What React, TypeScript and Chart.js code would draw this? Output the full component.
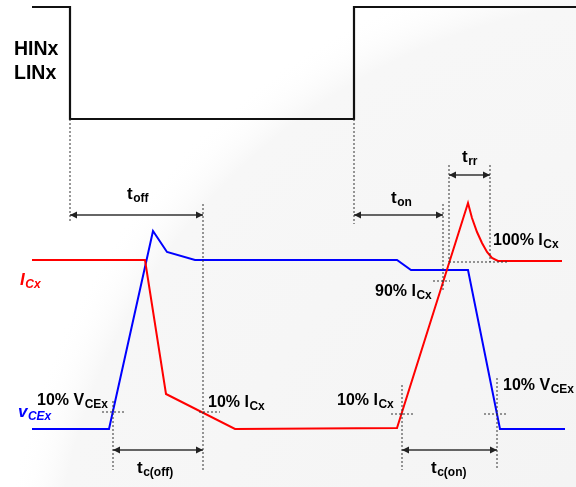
import React, { useEffect, useRef } from "react";
import { Chart, registerables } from "chart.js";

Chart.register(...registerables);

// Waveforms (x = time position, y = level position, diagram units; y grows downward)
const gateX = [32, 70, 70, 354, 354, 577];
const gateY = [7, 7, 119, 119, 7, 7];

const icX = [32, 145, 166, 235, 397, 468, 472, 477, 482, 487, 492, 498, 562];
const icY = [260, 260, 394, 429, 428, 203, 218, 232, 243, 252, 258, 261, 261];

const vceX = [32, 109, 153, 167, 195, 397, 411, 468, 500, 565];
const vceY = [429, 429, 231, 252, 260, 260, 270, 270, 429, 429];

// Dotted guide segments: [x1, y1, x2, y2]
const guides: number[][] = [
  [70, 119, 70, 222],
  [354, 119, 354, 224],
  [203, 204, 203, 470],
  [443, 204, 443, 292],
  [449, 165, 449, 262],
  [490, 165, 490, 262],
  [449, 262, 508, 262],
  [433, 281, 450, 281],
  [102, 412, 126, 412],
  [113, 401, 113, 470],
  [199, 412, 220, 412],
  [391, 414, 414, 414],
  [402, 385, 402, 470],
  [484, 414, 507, 414],
  [497, 378, 497, 470],
];

// Dimension arrows: [xStart, xEnd, y]
const arrows: number[][] = [
  [70, 203, 215],
  [354, 443, 215],
  [449, 490, 175],
  [113, 203, 450],
  [402, 497, 450],
];

// Labels: [main, subscript, x, baseline y, colour, italic]
const labelMain = ["HINx", "LINx", "t", "t", "t", "100% I", "I", "v", "10% V", "10% I", "10% I", "90% I", "10% V", "t", "t"];
const labelSub = ["", "", "off", "on", "rr", "Cx", "Cx", "CEx", "CEx", "Cx", "Cx", "Cx", "CEx", "c(off)", "c(on)"];
const labelX = [14, 14, 127, 391, 462, 493, 20, 18, 37, 208, 337, 375, 503, 137, 431];
const labelY = [55, 79, 199, 203, 162, 245, 285, 417, 405, 407, 405, 296, 390, 473, 473];
const labelColor = ["#000", "#000", "#000", "#000", "#000", "#000", "#ff0000", "#0000ff", "#000", "#000", "#000", "#000", "#000", "#000", "#000"];
const labelItalic = [false, false, false, false, false, false, true, true, false, false, false, false, false, false, false];
const labelSize = [19.5, 19.5, 17, 17, 17, 16, 17, 17, 16, 16, 16, 16, 16, 17, 17];

const FONT = '"Liberation Sans", Arial, sans-serif';

const arrowPlugin = {
  id: "arrowHeads",
  afterDatasetsDraw(chart: any) {
    const ctx = chart.ctx;
    chart.data.datasets.forEach((ds: any, i: number) => {
      if (!ds.isArrow) return;
      const meta = chart.getDatasetMeta(i);
      const pts = meta.data;
      if (pts.length < 2) return;
      const a = pts[0];
      const b = pts[pts.length - 1];
      const draw = (tip: any, from: any) => {
        const ang = Math.atan2(tip.y - from.y, tip.x - from.x);
        const len = 7;
        const half = 3.5;
        ctx.save();
        ctx.fillStyle = "#222";
        ctx.beginPath();
        ctx.moveTo(tip.x, tip.y);
        ctx.lineTo(tip.x - len * Math.cos(ang) + half * Math.sin(ang), tip.y - len * Math.sin(ang) - half * Math.cos(ang));
        ctx.lineTo(tip.x - len * Math.cos(ang) - half * Math.sin(ang), tip.y - len * Math.sin(ang) + half * Math.cos(ang));
        ctx.closePath();
        ctx.fill();
        ctx.restore();
      };
      draw(a, b);
      draw(b, a);
    });
  },
};

const labelPlugin = {
  id: "diagramLabels",
  afterDatasetsDraw(chart: any) {
    const ctx = chart.ctx;
    const xs = chart.scales.x;
    const ys = chart.scales.y;
    for (let i = 0; i < labelMain.length; i++) {
      const px = xs.getPixelForValue(labelX[i]);
      const py = ys.getPixelForValue(labelY[i]);
      const style = labelItalic[i] ? "italic bold" : "bold";
      const size = labelSize[i];
      ctx.save();
      ctx.fillStyle = labelColor[i];
      ctx.textBaseline = "alphabetic";
      ctx.textAlign = "left";
      ctx.font = `${style} ${size}px ${FONT}`;
      ctx.fillText(labelMain[i], px, py);
      const w = ctx.measureText(labelMain[i]).width;
      if (labelSub[i]) {
        ctx.font = `${style} ${Math.round(size * 0.72)}px ${FONT}`;
        ctx.fillText(labelSub[i], px + w + 0.5, py + 3);
      }
      ctx.restore();
    }
  },
};

const bgPlugin = {
  id: "bg",
  beforeDraw(chart: any) {
    const ctx = chart.ctx;
    const { width, height } = chart;
    ctx.save();
    ctx.fillStyle = "#ffffff";
    ctx.fillRect(0, 0, width, height);
    const g = ctx.createRadialGradient(width * 1.15, height * 1.25, 0, width * 1.15, height * 1.25, width * 1.15);
    g.addColorStop(0, "rgba(243,243,243,1)");
    g.addColorStop(0.92, "rgba(247,247,247,1)");
    g.addColorStop(1, "rgba(255,255,255,0)");
    ctx.fillStyle = g;
    ctx.fillRect(0, 0, width, height);
    ctx.restore();
  },
};

function pts(xs: number[], ys: number[]) {
  return xs.map((x, i) => ({ x, y: ys[i] }));
}

export default function App() {
  const ref = useRef<HTMLCanvasElement | null>(null);
  useEffect(() => {
    if (!ref.current) return;
    const datasets: any[] = [];
    guides.forEach((g) => {
      datasets.push({
        data: [{ x: g[0], y: g[1] }, { x: g[2], y: g[3] }],
        borderColor: "#333",
        borderWidth: 1,
        borderDash: [2, 2],
        pointRadius: 0,
        showLine: true,
      });
    });
    arrows.forEach((a) => {
      datasets.push({
        data: [{ x: a[0], y: a[2] }, { x: a[1], y: a[2] }],
        borderColor: "#333",
        borderWidth: 1.5,
        pointRadius: 0,
        showLine: true,
        isArrow: true,
      });
    });
    datasets.push({
      data: pts(gateX, gateY),
      borderColor: "#111",
      borderWidth: 2.2,
      pointRadius: 0,
      showLine: true,
    });
    datasets.push({
      data: pts(icX, icY),
      borderColor: "#ff0000",
      borderWidth: 2,
      pointRadius: 0,
      showLine: true,
      tension: 0,
    });
    datasets.push({
      data: pts(vceX, vceY),
      borderColor: "#0000ff",
      borderWidth: 2,
      pointRadius: 0,
      showLine: true,
    });
    const chart = new Chart(ref.current, {
      type: "scatter",
      data: { datasets },
      options: {
        animation: false,
        responsive: false,
        maintainAspectRatio: false,
        layout: { padding: 0 },
        plugins: { legend: { display: false }, tooltip: { enabled: false } },
        scales: {
          x: { type: "linear", min: 0, max: 576, display: false },
          y: { type: "linear", min: 0, max: 487, reverse: true, display: false },
        },
        elements: { line: { borderJoinStyle: "miter", borderCapStyle: "butt" } },
      } as any,
      plugins: [bgPlugin, arrowPlugin, labelPlugin],
    });
    return () => chart.destroy();
  }, []);
  return (
    <div style={{ position: "fixed", left: 0, top: 0, width: 576, height: 487 }}>
      <canvas ref={ref} width={576} height={487} style={{ width: 576, height: 487, display: "block" }} />
    </div>
  );
}
